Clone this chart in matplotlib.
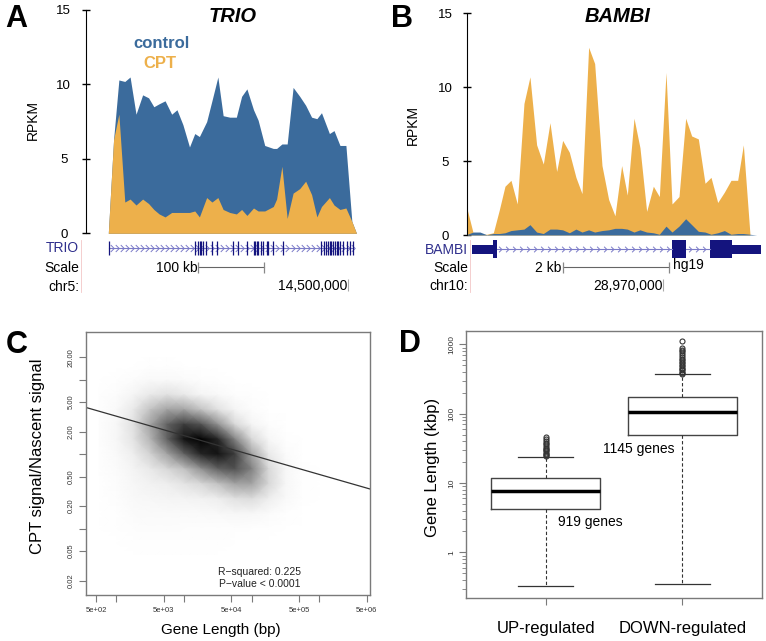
import numpy as np
import matplotlib
matplotlib.use("Agg")
import matplotlib.pyplot as plt
from matplotlib.path import Path
from matplotlib.lines import Line2D
from matplotlib.patches import Rectangle
from matplotlib.colors import PowerNorm
from matplotlib.ticker import LogLocator, NullLocator, NullFormatter

plt.rcParams['font.family'] = ['Liberation Sans', 'DejaVu Sans']

W, H = 766, 641
CONTROL = '#3b6b9c'
CPT = '#edb04b'
EXON = '#14147e'
INTRON = '#7b7bc8'

# ---- A: TRIO signal (positions in kb from gene start) ----
trio_pos = [-25, 0, 8, 16, 25, 33, 42, 52, 61, 69, 77, 86, 96, 104, 113, 123,
            131, 138, 149, 157, 166, 174, 184, 194, 202, 210, 220, 227, 237,
            250, 255, 263, 271, 280, 290, 299, 308, 316, 323, 335, 342, 351,
            360, 369, 376, 394]
trio_control = [0, 0, 6.3, 10.3, 10.2, 10.5, 8.0, 9.3, 9.1, 8.5, 8.7, 8.9, 8.0,
                8.3, 7.3, 5.8, 6.7, 6.5, 7.5, 8.9, 10.5, 7.9, 7.8, 7.8, 9.2,
                9.7, 8.3, 7.6, 5.9, 5.7, 5.7, 6.0, 6.0, 9.8, 9.2, 8.6, 7.8,
                7.7, 8.1, 6.7, 6.9, 5.9, 5.9, 0.8, 0, 0]
trio_cpt = [0, 0, 6.3, 8.0, 2.1, 2.3, 1.9, 2.3, 2.0, 1.6, 1.3, 1.1, 1.4, 1.4,
            1.4, 1.4, 1.5, 1.1, 2.4, 2.1, 2.4, 1.6, 1.4, 1.3, 1.6, 1.2, 1.7,
            1.5, 1.5, 1.8, 2.3, 4.5, 1.0, 2.7, 3.0, 3.5, 2.6, 1.1, 1.8, 2.4,
            1.9, 1.6, 1.7, 0.8, 0, 0]
trio_gene = [1.5, 371]
trio_exons = [1.5, 131, 136, 139, 141, 144, 148, 157, 164, 189, 197, 210, 220,
              222, 225, 227, 231, 235, 240, 242, 250, 265, 323, 327, 330, 333,
              336, 338, 341, 343, 346, 348, 351, 356, 361, 366, 371]
trio_scale = [136.4, 236.4]          # 100 kb
trio_coord = 363.6                   # chr5:14,500,000

# ---- B: BAMBI signal (positions in bp) ----
bambi_pos = [0, 113, 239, 365, 491, 604, 711, 824, 943, 1069, 1182, 1308, 1434,
             1560, 1686, 1799, 1925, 2050, 2164, 2289, 2403, 2541, 2667, 2786,
             2912, 3019, 3145, 3258, 3384, 3510, 3623, 3749, 3862, 3994, 4120,
             4233, 4359, 4485, 4598, 4724, 4850, 4975, 5101, 5208, 5334, 5460]
bambi_cpt = [1.7, 0.1, 0.05, 0.05, 0.15, 1.7, 3.3, 3.7, 2.1, 8.9, 10.7, 6.1,
             4.8, 7.6, 4.3, 6.4, 5.6, 3.9, 2.8, 12.7, 11.6, 4.7, 2.4, 1.3, 4.7,
             2.7, 7.9, 5.9, 1.6, 3.3, 2.6, 11.0, 2.1, 2.6, 7.9, 6.7, 6.5, 3.5,
             3.9, 2.2, 2.9, 3.7, 3.7, 6.1, 0.0, 0.0]
bambi_control = [0.05, 0.2, 0.2, 0.02, 0.1, 0.1, 0.15, 0.3, 0.35, 0.4, 0.7,
                 0.2, 0.1, 0.4, 0.4, 0.35, 0.15, 0.4, 0.2, 0.35, 0.2, 0.3,
                 0.35, 0.45, 0.45, 0.4, 0.2, 0.35, 0.2, 0.15, 0.05, 0.6, 0.2,
                 0.6, 1.1, 0.7, 0.25, 0.2, 0.05, 0.15, 0.3, 0.05, 0.1, 0.1,
                 0.05, 0.0]
bambi_utr = [(82, 491), (4988, 5535)]
bambi_cds = [(491, 553), (3856, 4126), (4579, 4988)]
bambi_introns = [(553, 3856), (4126, 4579)]
bambi_scale = [1799, 3799]           # 2 kb
bambi_coord = 3698                   # chr10:28,970,000

# ---- C: density of the scatter cloud (log10 grid) ----
dens_logx = [2.75, 3.0, 3.25, 3.5, 3.75, 4.0, 4.25, 4.5, 4.75, 5.0, 5.25, 5.5, 5.75, 6.0]
dens_logy = [1.4, 1.2, 1.0, 0.8, 0.6, 0.4, 0.2, 0.0, -0.2, -0.4, -0.6, -0.8,
             -1.0, -1.2, -1.4, -1.6]
dens = [
    [0, 0, 0, 0.01, 0.01, 0, 0, 0, 0, 0, 0, 0, 0, 0],
    [0, 0.01, 0.02, 0.03, 0.03, 0.02, 0.02, 0.01, 0.01, 0, 0, 0, 0, 0],
    [0.01, 0.03, 0.06, 0.10, 0.10, 0.08, 0.05, 0.04, 0.02, 0.01, 0, 0, 0, 0],
    [0.03, 0.06, 0.15, 0.25, 0.30, 0.25, 0.15, 0.10, 0.05, 0.03, 0.01, 0, 0, 0],
    [0.04, 0.10, 0.25, 0.45, 0.55, 0.55, 0.45, 0.30, 0.15, 0.06, 0.02, 0.01, 0, 0],
    [0.05, 0.12, 0.30, 0.55, 0.75, 0.85, 0.80, 0.60, 0.35, 0.15, 0.05, 0.02, 0.01, 0],
    [0.05, 0.12, 0.28, 0.50, 0.75, 0.95, 1.00, 0.90, 0.65, 0.35, 0.12, 0.04, 0.01, 0],
    [0.04, 0.10, 0.22, 0.38, 0.55, 0.75, 0.90, 0.95, 0.85, 0.55, 0.25, 0.08, 0.02, 0.01],
    [0.03, 0.08, 0.16, 0.25, 0.35, 0.45, 0.60, 0.75, 0.80, 0.65, 0.35, 0.12, 0.04, 0.01],
    [0.02, 0.06, 0.12, 0.18, 0.22, 0.28, 0.35, 0.45, 0.55, 0.55, 0.35, 0.12, 0.04, 0.01],
    [0.02, 0.05, 0.10, 0.13, 0.15, 0.16, 0.18, 0.22, 0.30, 0.32, 0.22, 0.10, 0.03, 0.01],
    [0.01, 0.04, 0.07, 0.09, 0.09, 0.09, 0.09, 0.10, 0.12, 0.12, 0.08, 0.04, 0.02, 0],
    [0.01, 0.03, 0.05, 0.06, 0.06, 0.05, 0.05, 0.05, 0.05, 0.04, 0.03, 0.02, 0.01, 0],
    [0.01, 0.02, 0.03, 0.04, 0.04, 0.03, 0.03, 0.03, 0.02, 0.02, 0.01, 0.01, 0, 0],
    [0, 0.01, 0.02, 0.02, 0.02, 0.02, 0.02, 0.02, 0.01, 0.01, 0, 0, 0, 0],
    [0, 0.01, 0.01, 0.01, 0.01, 0.01, 0.01, 0.01, 0.01, 0, 0, 0, 0, 0],
]
fit_intercept = 1.293   # log10 fit line
fit_slope = -0.261
r_squared = 0.225

# ---- D: gene length boxplots (kbp) ----
groups = ['UP-regulated', 'DOWN-regulated']
n_genes = [919, 1145]
q1 = [4.22, 48.7]
med = [7.67, 107]
q3 = [11.7, 176]
whislo = [0.327, 0.349]
whishi = [23.4, 369]
fliers_up = [24.5, 25.5, 26.5, 27.5, 28.5, 29.5, 31, 32.5, 34, 36, 38, 40.5, 43, 45.5]
fliers_down = [375, 390, 405, 420, 440, 460, 480, 505, 530, 560, 590, 620, 660,
               700, 740, 790, 840, 875, 1130]

fig = plt.figure(figsize=(W / 100, H / 100), dpi=100)


def rect(l, t, r, b):
    return [l / W, 1 - b / H, (r - l) / W, (b - t) / H]


def ftext(x, y, s, **kw):
    kw.setdefault('ha', 'center')
    kw.setdefault('va', 'center')
    fig.text(x / W, 1 - y / H, s, **kw)


def signal_axes(r, xlim):
    ax = fig.add_axes(r)
    ax.set_xlim(xlim)
    ax.set_ylim(0, 15)
    for s in ['top', 'right', 'bottom']:
        ax.spines[s].set_visible(False)
    ax.set_xticks([])
    ax.set_yticks([0, 5, 10, 15])
    ax.tick_params(axis='y', direction='inout', length=6, width=1, labelsize=9.5, pad=13)
    for lab in ax.get_yticklabels():
        lab.set_ha('center')
    ax.patch.set_alpha(0)
    return ax


def track_axes(r, xlim):
    tr = fig.add_axes(r)
    tr.set_xlim(xlim)
    tr.set_ylim(300, 236)  # y in figure pixels
    tr.axis('off')
    return tr


chev = Path([(-0.5, 1), (0.5, 0), (-0.5, -1)], [Path.MOVETO, Path.LINETO, Path.LINETO])

# ================= A =================
xa = (-33.8, 396.5)
axa = signal_axes(rect(86, 10, 370, 233.3), xa)
axa.fill_between(trio_pos, 0, trio_control, color=CONTROL, lw=0, zorder=2)
axa.fill_between(trio_pos, 0, trio_cpt, color=CPT, lw=0, zorder=3)
axa.plot([trio_pos[0], trio_pos[-1]], [0, 0], color='#555', lw=0.6, zorder=4)

tra = track_axes(rect(86, 236, 370, 300), xa)
tra.plot(trio_gene, [247.5, 247.5], color=INTRON, lw=0.8)
cx = np.arange(trio_gene[0] + 4, trio_gene[1], 7.6)
tra.plot(cx, [247.5] * len(cx), ls='none', marker=chev, ms=5, mfc='none', mec=INTRON, mew=0.7)
tra.vlines(trio_exons, 240.5, 254.5, color=EXON, lw=0.9)
tra.plot(trio_scale, [266.7, 266.7], color='#666', lw=0.8)
tra.vlines(trio_scale, 262, 273, color='#888', lw=0.9)
tra.text(trio_scale[0] - 1.5, 268, '100 kb', ha='right', va='center', fontsize=10)
tra.vlines([trio_coord], 279, 291, color='#aaa', lw=0.8)
tra.text(trio_coord - 1, 286.5, '14,500,000', ha='right', va='center', fontsize=10)

ftext(79, 248, 'TRIO', ha='right', color='#2e2e8c', fontsize=10)
ftext(79, 268, 'Scale', ha='right', fontsize=10)
ftext(79, 286.5, 'chr5:', ha='right', fontsize=10)
ftext(33, 120, 'RPKM', rotation=90, fontsize=10)
ftext(233, 17, 'TRIO', fontsize=14.5, fontweight='bold', fontstyle='italic')
ftext(161, 43, 'control', color=CONTROL, fontsize=12, fontweight='bold')
ftext(160, 63, 'CPT', color=CPT, fontsize=12, fontweight='bold')
ftext(16, 19, 'A', fontsize=22, fontweight='bold')
fig.add_artist(Line2D([80.5 / W] * 2, [1 - 240 / H, 1 - 292 / H], color='#f3c6c6', lw=0.6))

# ================= B =================
xb = (0, 5460)
axb = signal_axes(rect(467.3, 13.3, 756.7, 235), xb)
axb.fill_between(bambi_pos, 0, bambi_cpt, color=CPT, lw=0, zorder=2)
axb.fill_between(bambi_pos, 0, bambi_control, color=CONTROL, lw=0, zorder=3)
axb.plot([bambi_pos[0], bambi_pos[-1]], [0, 0], color='#555', lw=0.6, zorder=4)

trb = track_axes(rect(467.3, 236, 762, 300), (0, 5560))
for s, e in bambi_introns:
    trb.plot([s, e], [249, 249], color=INTRON, lw=0.8)
    cxb = np.arange(s + 70, e - 40, 132)
    trb.plot(cxb, [249] * len(cxb), ls='none', marker=chev, ms=4, mfc='none', mec=INTRON, mew=0.7)
for s, e in bambi_utr:
    trb.add_patch(Rectangle((s, 244.5), e - s, 9, color=EXON, lw=0))
for s, e in bambi_cds:
    trb.add_patch(Rectangle((s, 240), e - s, 18, color=EXON, lw=0))
trb.plot(bambi_scale, [266.7, 266.7], color='#666', lw=0.8)
trb.vlines(bambi_scale, 262, 273, color='#888', lw=0.9)
trb.text(bambi_scale[0] - 30, 268, '2 kb', ha='right', va='center', fontsize=10)
trb.text(bambi_scale[1] + 80, 265.5, 'hg19', ha='left', va='center', fontsize=10)
trb.vlines([bambi_coord], 279, 291, color='#aaa', lw=0.8)
trb.text(bambi_coord - 10, 285.5, '28,970,000', ha='right', va='center', fontsize=10)

ftext(468, 249.5, 'BAMBI', ha='right', color='#2e2e8c', fontsize=10)
ftext(468, 267.5, 'Scale', ha='right', fontsize=10)
ftext(468, 285.5, 'chr10:', ha='right', fontsize=10)
ftext(413, 125, 'RPKM', rotation=90, fontsize=10)
ftext(618, 17, 'BAMBI', fontsize=14.5, fontweight='bold', fontstyle='italic')
ftext(402, 19, 'B', fontsize=22, fontweight='bold')
fig.add_artist(Line2D([470 / W] * 2, [1 - 240 / H, 1 - 292 / H], color='#f3c6c6', lw=0.6))

# ================= C =================
GRAY = '#7a7a7a'
axc = fig.add_axes(rect(85.7, 332.3, 370, 595))
axc.set_xscale('log')
axc.set_yscale('log')
xlc = (352, 5.6e6)
axc.set_xlim(xlc)
axc.set_ylim(0.0128, 43.4)
X, Y = np.meshgrid(10 ** np.array(dens_logx), 10 ** np.array(dens_logy))
axc.pcolormesh(X, Y, np.array(dens), shading='gouraud', cmap='Greys',
               norm=PowerNorm(gamma=1.3, vmin=0, vmax=1))
lx = np.array(xlc)
axc.plot(lx, 10 ** (fit_intercept + fit_slope * np.log10(lx)), color='#333', lw=0.9)

xt = [5e2, 1e3, 5e3, 1e4, 5e4, 1e5, 5e5, 1e6, 5e6]
axc.set_xticks(xt)
axc.set_xticklabels(['5e+02', '', '5e+03', '', '5e+04', '', '5e+05', '', '5e+06'])
yt = [0.02, 0.05, 0.1, 0.2, 0.5, 1, 2, 5, 10, 20]
axc.set_yticks(yt)
axc.set_yticklabels(['0.02', '0.05', '', '0.20', '0.50', '', '2.00', '5.00', '', '20.00'],
                    rotation=90, va='center')
axc.xaxis.set_minor_locator(NullLocator())
axc.yaxis.set_minor_locator(NullLocator())
axc.tick_params(length=5, width=0.8, color=GRAY, labelsize=5.5, labelcolor='#333')
axc.tick_params(axis='x', pad=4)
axc.tick_params(axis='y', pad=3)
for s in axc.spines.values():
    s.set_color(GRAY)
    s.set_linewidth(1.0)

ftext(260, 572, f'R\u2212squared: {r_squared}', fontsize=7.5, color='#222')
ftext(260, 584, 'P\u2212value < 0.0001', fontsize=7.5, color='#222')
ftext(38, 456, 'CPT signal/Nascent signal', rotation=90, fontsize=12)
ftext(221, 630, 'Gene Length (bp)', fontsize=11)
ftext(17, 345, 'C', fontsize=22, fontweight='bold')

# ================= D =================
axd = fig.add_axes(rect(466, 331, 761.7, 597.7))
stats = []
for i, fl in enumerate([fliers_up, fliers_down]):
    stats.append(dict(med=med[i], q1=q1[i], q3=q3[i], whislo=whislo[i],
                      whishi=whishi[i], fliers=fl))
axd.bxp(stats, positions=[1, 2], widths=0.8, capwidths=0.4,
        boxprops=dict(color='#444', lw=1.0),
        medianprops=dict(color='black', lw=2.5),
        whiskerprops=dict(color='#333', lw=0.8, ls=(0, (3, 2))),
        capprops=dict(color='#333', lw=0.9),
        flierprops=dict(marker='o', mfc='none', mec='#333', ms=3.6, mew=0.8))
axd.set_yscale('log')
axd.set_ylim(0.222, 1557)
axd.set_xlim(0.417, 2.58)
axd.set_yticks([1, 10, 100, 1000])
axd.set_yticklabels(['1', '10', '100', '1000'], rotation=90, va='center')
axd.yaxis.set_minor_locator(LogLocator(base=10, subs=np.arange(2, 10)))
axd.yaxis.set_minor_formatter(NullFormatter())
axd.set_xticks([1, 2])
axd.set_xticklabels(groups)
axd.tick_params(axis='y', length=5, width=0.8, color=GRAY, labelsize=6, labelcolor='#333', pad=3)
axd.tick_params(axis='y', which='minor', length=3, width=0.6, color=GRAY)
axd.tick_params(axis='x', length=5, width=0.8, color=GRAY, labelsize=12, pad=12)
for s in axd.spines.values():
    s.set_color(GRAY)
    s.set_linewidth(1.0)

ftext(558, 522, f'{n_genes[0]} genes', ha='left', fontsize=10)
ftext(603, 449, f'{n_genes[1]} genes', ha='left', fontsize=10)
ftext(432, 467, 'Gene Length (kbp)', rotation=90, fontsize=12)
ftext(410, 344, 'D', fontsize=22, fontweight='bold')

fig.savefig('out.png', dpi=100)
